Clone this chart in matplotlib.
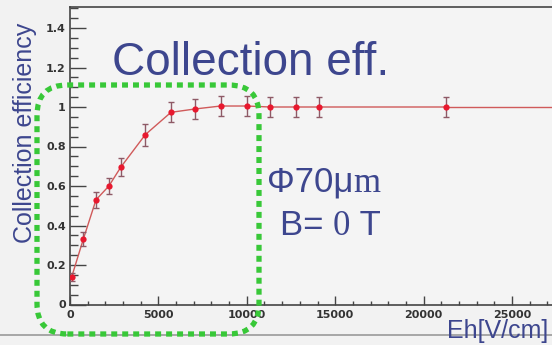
import matplotlib
matplotlib.use("Agg")
import matplotlib.pyplot as plt
from matplotlib.patches import FancyBboxPatch
from matplotlib.ticker import MultipleLocator, FixedFormatter, FixedLocator

# Measured collection efficiency versus field strength
field = [96, 750, 1470, 2200, 2870, 4260, 5710, 7070, 8520, 10000,
         11310, 12780, 14100, 21250]
efficiency = [0.14, 0.33, 0.53, 0.60, 0.695, 0.86, 0.973, 0.99, 1.005, 1.005,
              1.0, 1.0, 1.0, 1.0]
errors = [0.02, 0.035, 0.04, 0.04, 0.045, 0.055, 0.05, 0.052, 0.052, 0.052,
          0.052, 0.052, 0.052, 0.052]

x_ticks = [0, 5000, 10000, 15000, 20000, 25000]
x_tick_labels = ["0", "5000", "10000", "15000", "20000", "25000"]
y_ticks = [0, 0.2, 0.4, 0.6, 0.8, 1.0, 1.2, 1.4]
y_tick_labels = ["0", "0.2", "0.4", "0.6", "0.8", "1", "1.2", "1.4"]

W, H = 552, 345
DPI = 100
BG = "#f2f2f2"
NAVY = "#3d468e"
GREEN = "#38c838"
AXC = "#444444"

plt.rcParams["lines.scale_dashes"] = False
fig = plt.figure(figsize=(W / DPI, H / DPI), dpi=DPI, facecolor=BG)

x0, y_top, y_bot = 70, 7, 304.5
ax = fig.add_axes([x0 / W, (H - y_bot) / H, 1 - x0 / W, (y_bot - y_top) / H])
ax.set_facecolor("#f4f4f4")
xmax = (W - x0) / 88.4 * 5000
ax.set_xlim(0, xmax)
ax.set_ylim(0, (y_bot - y_top) / 197.5)

for side in ("left", "bottom", "top"):
    ax.spines[side].set_color(AXC)
    ax.spines[side].set_linewidth(1.2)
ax.spines["right"].set_visible(False)

ax.xaxis.set_major_locator(FixedLocator(x_ticks))
ax.xaxis.set_major_formatter(FixedFormatter(x_tick_labels))
ax.xaxis.set_minor_locator(MultipleLocator(1000))
ax.yaxis.set_major_locator(FixedLocator(y_ticks))
ax.yaxis.set_major_formatter(FixedFormatter(y_tick_labels))
ax.yaxis.set_minor_locator(MultipleLocator(0.05))

ax.tick_params(axis="both", which="both", direction="in", color=AXC,
               labelcolor="#333333", labelsize=8, width=1.0)
ax.tick_params(axis="y", which="major", length=11.5, pad=3)
ax.tick_params(axis="y", which="minor", length=6)
ax.tick_params(axis="x", which="major", length=6.5, pad=4)
ax.tick_params(axis="x", which="minor", length=3.2)
ax.tick_params(top=False, right=False, which="both")
for lab in ax.get_xticklabels() + ax.get_yticklabels():
    lab.set_fontweight("bold")
    lab.set_family("DejaVu Sans")

# data curve, continued flat to the right edge
ax.plot(field, efficiency, color="#d05a5a", lw=1.0, zorder=3)
ax.plot([field[-1], xmax * 1.05], [efficiency[-1], efficiency[-1]],
        color="#d05a5a", lw=1.0, zorder=3, clip_on=True)
ax.errorbar(field, efficiency, yerr=errors, fmt="none", ecolor="#8e5a66",
            elinewidth=1.0, capsize=2.5, capthick=1.0, zorder=4)
ax.plot(field, efficiency, "o", color="#e8182e", ms=4.5, mew=0, zorder=5)

# frame line under the plot
fig.add_artist(plt.Line2D([0, 1], [1 - 335 / H, 1 - 335 / H],
                          transform=fig.transFigure, color="#9a9a9a", lw=1.2))

# labels
fig.text(25 / W, 1 - 133 / H, "Collection efficiency", rotation=90,
         ha="center", va="center", color=NAVY, fontsize=18,
         family="Liberation Sans")
fig.text(548 / W, 1 - 338 / H, "Eh[V/cm]", ha="right", va="baseline",
         color=NAVY, fontsize=18, family="Liberation Sans")
fig.text(112 / W, 1 - 75 / H, "Collection eff.", ha="left", va="baseline",
         color=NAVY, fontsize=33, family="Liberation Sans")


def text_run(x_px, base_px, pieces, size=25):
    """Draw consecutive text pieces sharing one baseline (pixel coords)."""
    renderer = fig.canvas.get_renderer()
    x = x_px
    for s, fam in pieces:
        t = fig.text(x / W, 1 - base_px / H, s, ha="left", va="baseline",
                     color=NAVY, fontsize=size, family=fam)
        bb = t.get_window_extent(renderer)
        x += bb.width


text_run(267, 192, [("Φ70μ", "Liberation Sans"), ("m", "Liberation Serif")])
text_run(280, 235, [("B=\u00a0", "Liberation Sans"), ("0", "Liberation Serif"),
                    ("\u00a0T", "Liberation Sans")])

# dotted highlight box (figure pixel coordinates)
bx0, bx1, by0, by1 = 37, 259, 85, 334
box = FancyBboxPatch((bx0 / W, 1 - by1 / H), (bx1 - bx0) / W, (by1 - by0) / H,
                     boxstyle="round,pad=0,rounding_size=0.055",
                     transform=fig.transFigure, fill=False, edgecolor=GREEN,
                     linewidth=3.8, linestyle=(0, (4.3, 3.6)), capstyle="butt",
                     zorder=10, clip_on=False, mutation_aspect=W / H)
fig.add_artist(box)

fig.savefig("out.png", dpi=DPI, facecolor=BG)
